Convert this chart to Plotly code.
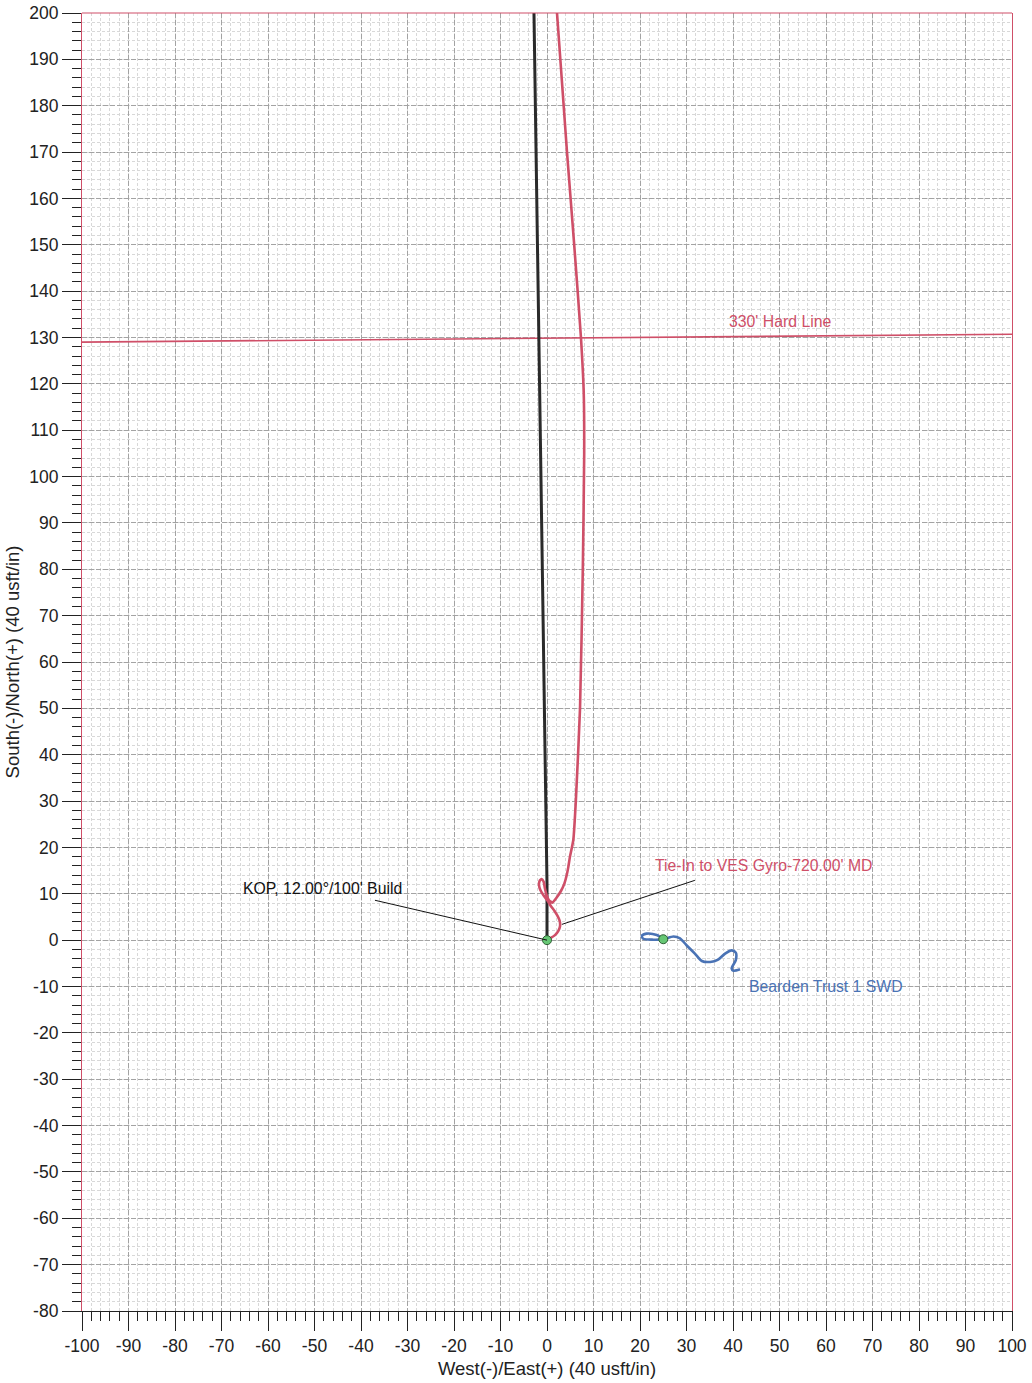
import plotly.graph_objects as go

# ---- data ----
plan_x = [0.0, 0.0, -0.9, -1.5, -2.2, -2.8]
plan_y = [0.0, 12.0, 73.0, 116.0, 160.0, 200.0]

actual_x = [0.0, 0.65, 1.72, 2.44, 2.8, 2.72, 2.29, 1.58, 0.86, 0.14, -0.72, -1.43, -1.72,
            -1.58, -1.15, -0.72, -0.43, -0.07, 0.43, 1.15, 2.08, 3.0, 3.73, 4.23, 4.59,
            4.9, 5.66, 6.2, 7.1, 7.7, 8.0, 7.9, 7.3, 5.85, 4.3, 2.15]
actual_y = [0.0, 0.36, 1.08, 2.0, 3.0, 4.17, 5.18, 6.33, 7.33, 8.48, 9.63, 10.8, 11.9,
            12.8, 13.2, 12.6, 11.1, 9.7, 8.6, 8.1, 9.2, 10.6, 12.2, 14.0, 15.8,
            17.8, 21.6, 30.0, 50.0, 80.0, 105.0, 118.0, 130.0, 150.0, 170.0, 200.0]

offset_x = [25.0, 23.6, 21.4, 20.4, 20.7, 22.9, 25.0, 27.2, 28.6, 30.0, 31.8, 33.3, 35.1,
            36.8, 38.3, 39.7, 40.6, 40.6, 39.7, 40.1, 41.5]
offset_y = [0.2, 1.1, 1.4, 0.9, 0.3, 0.1, 0.2, 0.8, 0.4, -1.1, -2.9, -4.5, -4.7,
            -4.2, -2.9, -2.2, -2.7, -4.3, -6.1, -6.6, -6.3]

hardline_x = [-100, 100]
hardline_y = [129.0, 130.7]

surface_x = [0.0, 25.0]
surface_y = [0.0, 0.2]

x_ticks = list(range(-100, 101, 10))
y_ticks = list(range(-80, 201, 10))

RED = "#cf4f68"
BLUE = "#4a73b5"
FONT = "Liberation Sans, Arial, sans-serif"

fig = go.Figure()

fig.add_trace(go.Scatter(x=hardline_x, y=hardline_y, mode="lines",
                         line=dict(color=RED, width=1.6), hoverinfo="skip"))
fig.add_trace(go.Scatter(x=plan_x, y=plan_y, mode="lines",
                         line=dict(color="#2a2a2a", width=3), hoverinfo="skip"))
fig.add_trace(go.Scatter(x=actual_x, y=actual_y, mode="lines",
                         line=dict(color=RED, width=2.6, shape="spline", smoothing=0.5),
                         hoverinfo="skip"))
fig.add_trace(go.Scatter(x=offset_x, y=offset_y, mode="lines",
                         line=dict(color=BLUE, width=2.6, shape="spline", smoothing=0.8),
                         hoverinfo="skip"))
fig.add_trace(go.Scatter(x=surface_x, y=surface_y, mode="markers",
                         marker=dict(color="#66c774", size=9,
                                     line=dict(color="#2f5e35", width=1)),
                         hoverinfo="skip"))

# leader lines
fig.add_shape(type="line", x0=0, y0=0, x1=-37, y1=8.6, line=dict(color="#111", width=1))
fig.add_shape(type="line", x0=3.2, y0=3.4, x1=31.8, y1=12.9, line=dict(color="#111", width=1))
# top border (red)
fig.add_shape(type="line", xref="paper", yref="paper", x0=0, y0=1, x1=1, y1=1,
              line=dict(color=RED, width=1.2))

ANN = 15.8
fig.add_annotation(x=-48.3, y=11.2, text="KOP, 12.00°/100' Build", showarrow=False,
                   font=dict(family=FONT, size=ANN, color="#111"))
fig.add_annotation(x=46.7, y=16.0, text="Tie-In to VES Gyro-720.00' MD", showarrow=False,
                   font=dict(family=FONT, size=ANN, color=RED))
fig.add_annotation(x=59.9, y=-9.9, text="Bearden Trust 1 SWD", showarrow=False,
                   font=dict(family=FONT, size=ANN, color=BLUE))
fig.add_annotation(x=50.1, y=133.4, text="330' Hard Line", showarrow=False,
                   font=dict(family=FONT, size=ANN, color=RED))

fig.update_layout(
    width=1032, height=1383,
    margin=dict(l=82, r=20, t=13, b=72, autoexpand=False),
    paper_bgcolor="white", plot_bgcolor="white",
    showlegend=False,
    font=dict(family=FONT, size=17.5, color="#222"),
)

common = dict(
    ticks="outside", ticklen=19, tickwidth=1, tickcolor="#222",
    linewidth=1.2, zeroline=False, automargin=False,
    showgrid=True, gridcolor="#a3a3a3", gridwidth=1, griddash="5px,2px",
    minor=dict(dtick=2, ticks="outside", ticklen=9, tickcolor="#222",
               showgrid=True, gridcolor="#d8d8d8", griddash="3px,2px", gridwidth=1),
    tickfont=dict(size=17.5),
)

fig.update_xaxes(
    range=[-100, 100], tickvals=x_ticks, ticktext=[str(v) for v in x_ticks],
    showline=True, linecolor="#222",
    title=dict(text="West(-)/East(+) (40 usft/in)", font=dict(size=18.5), standoff=6),
    **common,
)
fig.update_yaxes(
    range=[-80, 200], tickvals=y_ticks, ticktext=[str(v) for v in y_ticks],
    showline=True, linecolor=RED, mirror=True,
    title=dict(text="South(-)/North(+) (40 usft/in)", font=dict(size=18.5), standoff=4),
    **common,
)

fig.write_html("out.html",
               config={"displayModeBar": False},
               post_script="document.body.style.margin='0';"
                           "document.body.style.overflow='hidden';")
